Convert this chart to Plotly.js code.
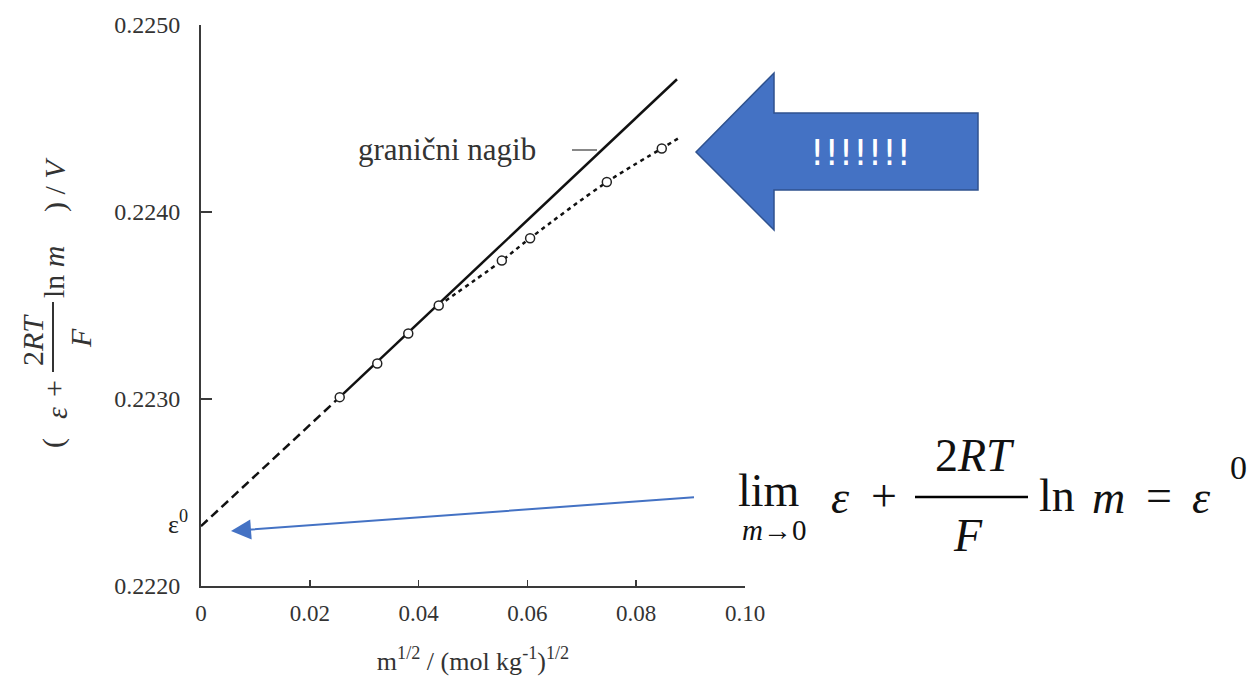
<!DOCTYPE html>
<html><head><meta charset="utf-8">
<script src="https://cdn.plot.ly/plotly-3.0.1.min.js"></script>
<style>html,body{margin:0;padding:0;background:#fff}#chart{width:1253px;height:684px}</style>
</head><body><div id="chart"></div>
<script>
// ---- data ----
const pointsX = [0.0255, 0.0324, 0.0381, 0.0437, 0.0553, 0.0605, 0.0746, 0.0847];
const pointsY = [0.22301, 0.22319, 0.22335, 0.22350, 0.22374, 0.22386, 0.22416, 0.22434];
const curveX = [0.0437, 0.0553, 0.0605, 0.0746, 0.0847, 0.0881];
const curveY = [0.22350, 0.22374, 0.22386, 0.22416, 0.22434, 0.22440];
const extrapX = [0, 0.0255];
const extrapY = [0.22232, 0.22301];
const slopeX = [0.0255, 0.0875];
const slopeY = [0.22301, 0.22471];
const xTickVals = [0, 0.02, 0.04, 0.06, 0.08, 0.10];
const xTickText = ['0', '0.02', '0.04', '0.06', '0.08', '0.10'];
const yTickVals = [0.2220, 0.2230, 0.2240, 0.2250];
const yTickText = ['0.2220', '0.2230', '0.2240', '0.2250'];
const slopeLabel = 'granični nagib';
const arrowText = '!!!!!!!';

// ---- layout geometry (pixels) ----
const L = 201, T = 25, W = 544, H = 561;
const px = x => (x - L) / W;
const py = y => (T + H - y) / H;
const serif = 'Liberation Serif, serif';
const axisCol = '#3a3a3a';

const traces = [
  {x: extrapX, y: extrapY, mode: 'lines', line: {color: '#111', width: 2.5, dash: '9px,5px'}, hoverinfo: 'skip'},
  {x: slopeX, y: slopeY, mode: 'lines', line: {color: '#111', width: 2.5}, hoverinfo: 'skip'},
  {x: curveX, y: curveY, mode: 'lines', line: {color: '#111', width: 2.5, dash: '4px,4px', shape: 'spline'}, hoverinfo: 'skip'},
  {x: pointsX, y: pointsY, mode: 'markers', marker: {symbol: 'circle', size: 9, color: '#fff', line: {color: '#222', width: 1.5}}, hoverinfo: 'skip'}
];

function A(text, x, y, size, extra, color) {
  return Object.assign({text: text, x: px(x), y: py(y), xref: 'paper', yref: 'paper', showarrow: false,
    font: {family: serif, size: size, color: color || '#111'}, xanchor: 'center', yanchor: 'middle'}, extra || {});
}
const R = {textangle: -90};

const annotations = [
  // y-axis title pieces (rotated)
  A('(', 53, 443, 30, R, '#333'),
  A('<i>ε</i>', 56, 413, 30, R, '#333'),
  A('+', 53, 389, 30, R, '#333'),
  A('2<i>RT</i>', 32, 340, 30, R, '#333'),
  A('<i>F</i>', 81, 338, 30, R, '#333'),
  A('ln <i>m</i>', 53, 272, 30, R, '#333'),
  A(') / <i>V</i>', 55, 185, 30, R, '#333'),
  // epsilon zero on axis
  A('ε<sup>0</sup>', 178, 522, 26, null, '#222'),
  // slope label
  A(slopeLabel, 447, 149, 31, null, '#333'),
  // block arrow text
  A(arrowText, 860, 152, 36, {font: {family: 'DejaVu Sans, sans-serif', size: 36, color: '#fff'}}),
  // limit formula
  A('lim', 769, 490, 46),
  A('<i>m</i>→0', 774, 530, 29),
  A('<i>ε</i>', 840, 497, 46),
  A('+', 884, 495, 46),
  A('2<i>RT</i>', 975, 455, 46),
  A('<i>F</i>', 968, 535, 46),
  A('ln', 1057, 495, 46),
  A('<i>m</i>', 1108, 497, 46),
  A('=', 1159, 495, 46),
  A('<i>ε</i>', 1201, 497, 46),
  A('0', 1238, 467, 34),
  // thin blue arrow
  {x: px(231), y: py(531), xref: 'paper', yref: 'paper', ax: 697 - 231, ay: 497 - 531, axref: 'pixel', ayref: 'pixel',
   showarrow: true, arrowhead: 2, arrowsize: 2, arrowwidth: 2, arrowcolor: '#4472C4', text: ' '}
];

const arrowPts = [[696,152],[774,73],[774,113],[978,113],[978,190],[774,190],[774,230]];
const arrowPath = 'M' + arrowPts.map(p => px(p[0]) + ',' + py(p[1])).join(' L') + ' Z';

const shapes = [
  {type: 'path', xref: 'paper', yref: 'paper', path: arrowPath, fillcolor: '#4472C4', line: {color: '#2F528F', width: 1.5}, layer: 'above'},
  {type: 'line', xref: 'paper', yref: 'paper', x0: px(53), x1: px(53), y0: py(302), y1: py(372), line: {color: '#333', width: 2}},
  {type: 'line', xref: 'paper', yref: 'paper', x0: px(572), x1: px(597), y0: py(150), y1: py(150), line: {color: '#888', width: 2}},
  {type: 'line', xref: 'paper', yref: 'paper', x0: px(915), x1: px(1028), y0: py(497), y1: py(497), line: {color: '#000', width: 2.5}}
];

const layout = {
  width: 1253, height: 684,
  margin: {l: L, r: 1253 - L - W, t: T, b: 684 - T - H},
  paper_bgcolor: '#fff', plot_bgcolor: '#fff',
  showlegend: false,
  xaxis: {range: [0, 0.10], tickvals: xTickVals, ticktext: xTickText, ticks: 'inside', ticklen: 6, tickwidth: 1.5, tickcolor: axisCol,
    showline: true, linecolor: axisCol, linewidth: 2, showgrid: false, zeroline: false, ticklabelstandoff: 5,
    tickfont: {family: serif, size: 23, color: '#333'},
    title: {text: 'm<sup>1/2</sup> / (mol kg<sup>-1</sup>)<sup>1/2</sup>', font: {family: serif, size: 26, color: '#333'}, standoff: 27}},
  yaxis: {range: [0.2220, 0.2250], tickvals: yTickVals, ticktext: yTickText, ticks: 'inside', ticklen: 11, tickwidth: 1.5, tickcolor: axisCol,
    showline: true, linecolor: axisCol, linewidth: 2, showgrid: false, zeroline: false, ticklabelstandoff: 14,
    tickfont: {family: serif, size: 24, color: '#333'}},
  annotations: annotations,
  shapes: shapes
};

Plotly.newPlot('chart', traces, layout, {displayModeBar: false, staticPlot: true});
</script>
</body></html>
